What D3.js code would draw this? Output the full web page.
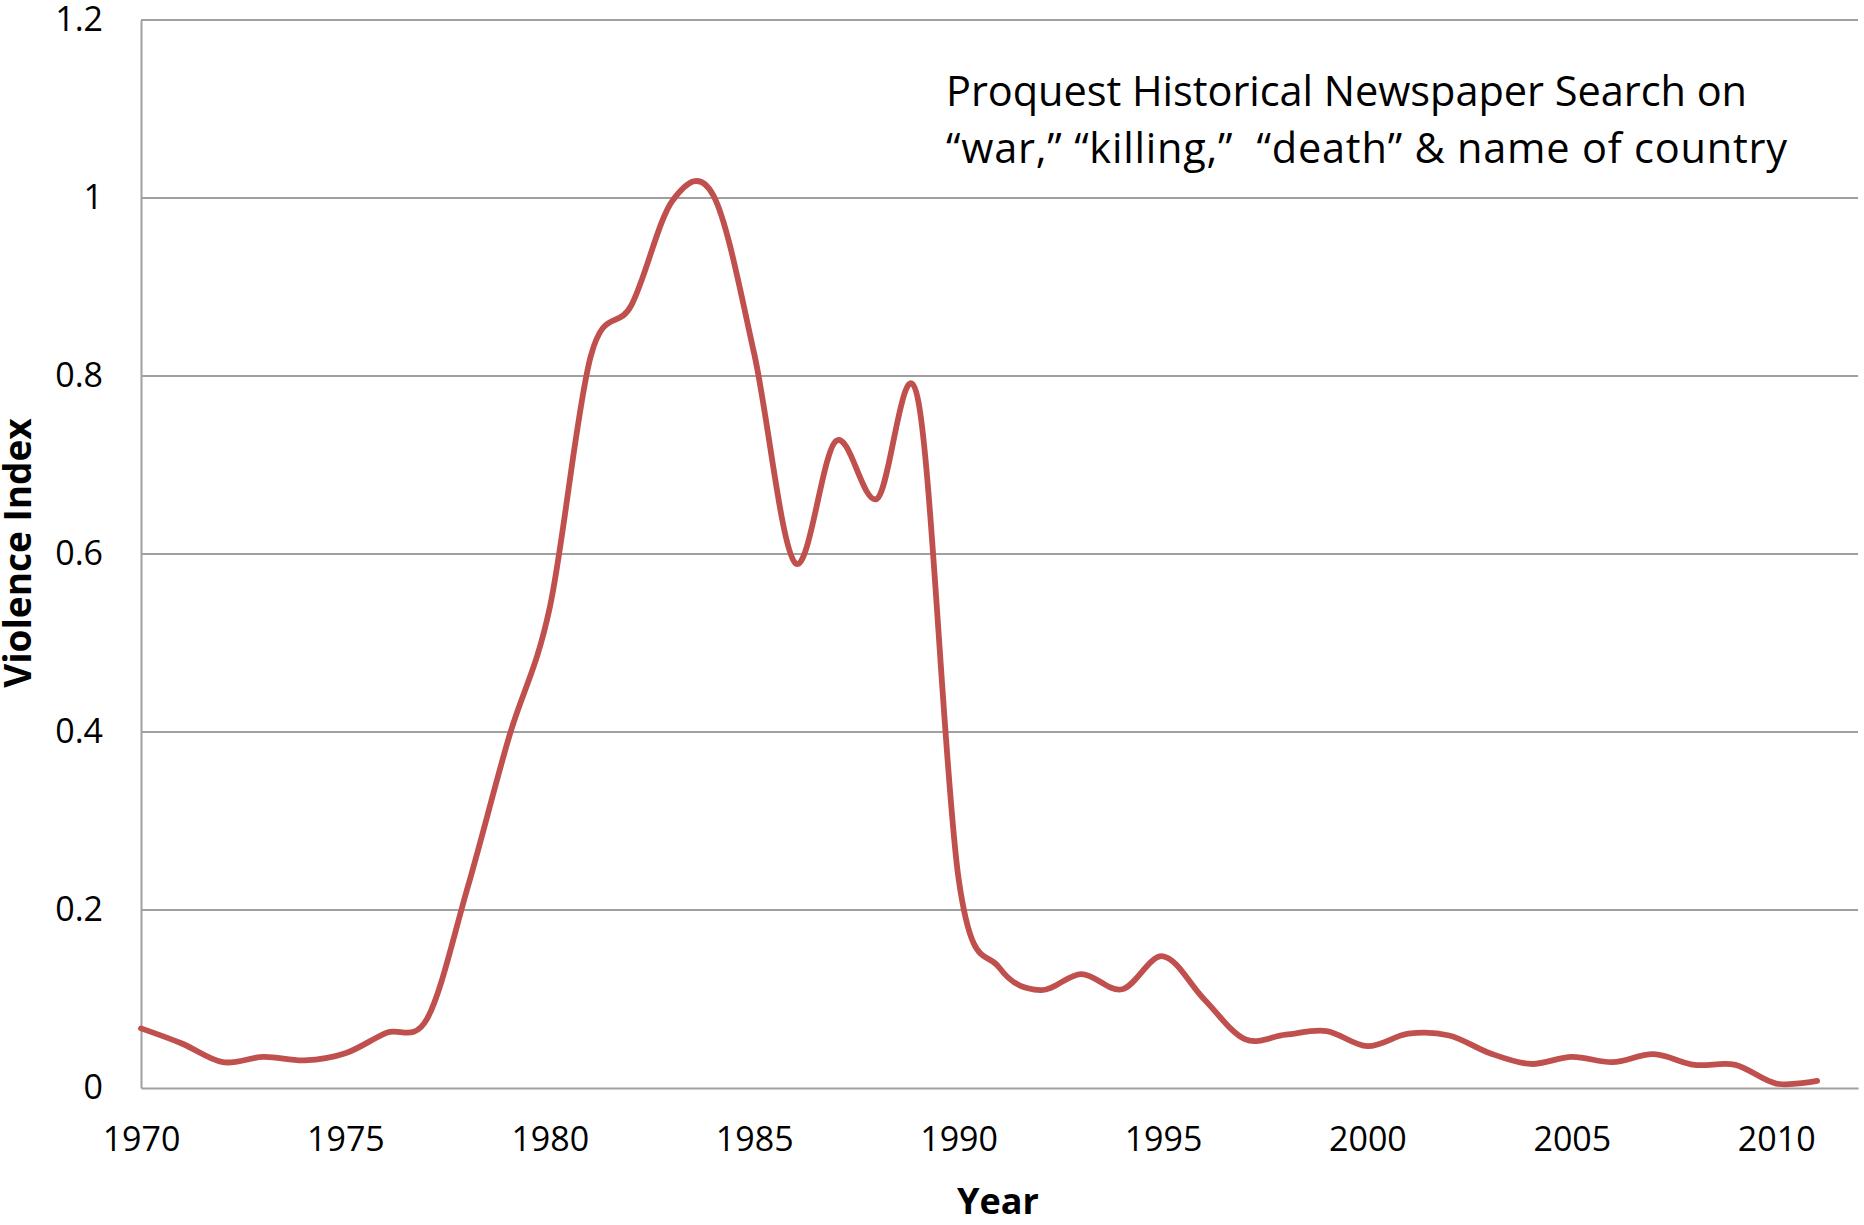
<!DOCTYPE html>
<html>
<head>
<meta charset="utf-8">
<script src="https://cdn.jsdelivr.net/npm/d3@7"></script>
<style>
    body { margin: 0; background: #fff; }
    text { font-family: "Open Sans", sans-serif; fill: #000; }
</style>
</head>
<body>
<div id="vis"></div>
<script>
'use strict';

// Years on the category axis
const years = [1970, 1971, 1972, 1973, 1974, 1975, 1976, 1977, 1978, 1979,
    1980, 1981, 1982, 1983, 1984, 1985, 1986, 1987, 1988, 1989,
    1990, 1991, 1992, 1993, 1994, 1995, 1996, 1997, 1998, 1999,
    2000, 2001, 2002, 2003, 2004, 2005, 2006, 2007, 2008, 2009,
    2010, 2011];

// Violence index for each year
const violenceIndex = [0.067, 0.050, 0.029, 0.035, 0.031, 0.039, 0.062, 0.078, 0.227, 0.394,
    0.540, 0.822, 0.880, 0.997, 1.003, 0.825, 0.590, 0.727, 0.662, 0.775,
    0.235, 0.135, 0.110, 0.128, 0.111, 0.148, 0.100, 0.055, 0.060, 0.064,
    0.047, 0.061, 0.059, 0.039, 0.027, 0.035, 0.029, 0.038, 0.026, 0.026,
    0.005, 0.008];

const yTicks = [0, 0.2, 0.4, 0.6, 0.8, 1, 1.2];
const xTickYears = [1970, 1975, 1980, 1985, 1990, 1995, 2000, 2005, 2010];

const titleLines = [
    "Proquest Historical Newspaper Search on",
    "\u201cwar,\u201d \u201ckilling,\u201d \u00a0\u201cdeath\u201d & name of country"
];

const constraints = {
    margin: {left: 141, right: 6, top: 20, bottom: 137},
    width: 1864,
    height: 1225
};

// widths the annotation lines take up in the original
const titleWidths = [801, 841];

let scaleFunc = { x: null, y: null };
let svg, plot;

generateSVG();
calculateScaling();
generateGrid();
generateAxis();
generateLabels();
plotLine();

// Builds the svg and the inner plot group
function generateSVG() {
    svg = d3.select("#vis").append("svg")
        .attr("width", constraints.width)
        .attr("height", constraints.height);
    svg.append("rect")
        .attr("width", constraints.width)
        .attr("height", constraints.height)
        .attr("fill", "#fff");
    plot = svg.append("g")
        .attr("transform", "translate(" + constraints.margin.left + "," + constraints.margin.top + ")");
}

function innerWidth() {
    return constraints.width - constraints.margin.left - constraints.margin.right;
}
function innerHeight() {
    return constraints.height - constraints.margin.top - constraints.margin.bottom;
}

// Linear scales; the x domain runs one year past the last point like Excel does
function calculateScaling() {
    scaleFunc.x = d3.scaleLinear()
        .domain([years[0], years[years.length - 1] + 1])
        .range([0, innerWidth()]);
    scaleFunc.y = d3.scaleLinear()
        .domain([0, 1.2])
        .range([innerHeight(), 0]);
}

// Horizontal gridlines
function generateGrid() {
    plot.append("g")
        .selectAll("line")
        .data(yTicks.filter(d => d > 0))
        .enter()
        .append("line")
            .attr("x1", 0)
            .attr("x2", innerWidth())
            .attr("y1", d => scaleFunc.y(d))
            .attr("y2", d => scaleFunc.y(d))
            .attr("stroke", "#a0a0a0")
            .attr("stroke-width", 2);
}

// Axes without tick marks
function generateAxis() {
    let yAxis = plot.append("g")
        .call(d3.axisLeft(scaleFunc.y)
            .tickValues(yTicks)
            .tickSize(0)
            .tickPadding(38)
            .tickFormat(d3.format("~g")));
    yAxis.select(".domain").attr("stroke", "#a0a0a0").attr("stroke-width", 2);
    yAxis.selectAll("text")
        .style("font-family", "'Open Sans', sans-serif")
        .style("font-size", "34px");

    let xAxis = plot.append("g")
        .attr("transform", "translate(0," + innerHeight() + ")")
        .call(d3.axisBottom(scaleFunc.x)
            .tickValues(xTickYears)
            .tickSize(0)
            .tickPadding(39)
            .tickFormat(d3.format("d")));
    xAxis.select(".domain").attr("stroke", "#a0a0a0").attr("stroke-width", 2);
    xAxis.selectAll("text")
        .style("font-family", "'Open Sans', sans-serif")
        .style("font-size", "34px");
}

// Axis titles and the annotation in the top right
function generateLabels() {
    svg.append("text")
        .attr("x", 998)
        .attr("y", 1214)
        .attr("text-anchor", "middle")
        .style("font-size", "36px")
        .style("font-weight", "bold")
        .text("Year");

    svg.append("text")
        .attr("transform", "translate(31, 553) rotate(-90)")
        .attr("text-anchor", "middle")
        .style("font-size", "37px")
        .style("font-weight", "bold")
        .text("Violence Index");

    svg.append("g")
        .selectAll("text")
        .data(titleLines)
        .enter()
        .append("text")
            .attr("x", 946)
            .attr("y", (d, i) => 106 + i * 57)
            .attr("textLength", (d, i) => titleWidths[i])
            .attr("lengthAdjust", "spacing")
            .style("font-size", "41.5px")
            .text(d => d);
}

// Smoothed line, Excel style
function plotLine() {
    let line = d3.line()
        .x((d, i) => scaleFunc.x(years[i]))
        .y(d => scaleFunc.y(d))
        .curve(d3.curveCardinal.tension(0));
    plot.append("path")
        .datum(violenceIndex)
        .attr("d", line)
        .attr("fill", "none")
        .attr("stroke", "#c0504d")
        .attr("stroke-width", 5.8)
        .attr("stroke-linejoin", "round")
        .attr("stroke-linecap", "round");
}
</script>
</body>
</html>
